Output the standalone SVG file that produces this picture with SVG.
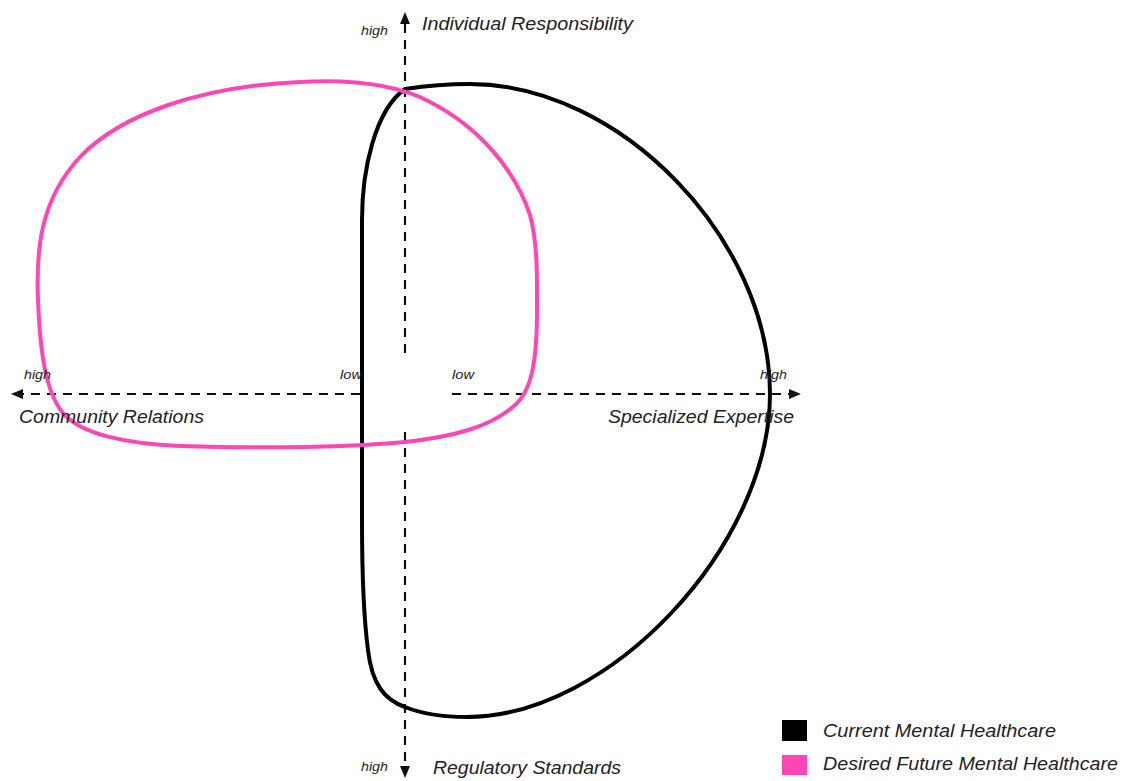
<svg xmlns="http://www.w3.org/2000/svg" width="1125" height="781" viewBox="0 0 1125 781">
<style>
.lbl{font-family:"Liberation Sans",Arial,sans-serif;font-style:italic;fill:#222;font-size:18.5px}
.sm{font-family:"Liberation Sans",Arial,sans-serif;font-style:italic;fill:#222;font-size:13px}
.axis{stroke:#111;stroke-width:2.2;stroke-dasharray:9 7;fill:none}
.head{fill:#111}
.shape{fill:none;stroke-width:4;stroke-linejoin:round}
</style>
<rect width="1125" height="781" fill="#fff"/>
<g id="connectors">
<line class="axis" x1="405" y1="24" x2="405" y2="358"/>
<line class="axis" x1="405" y1="432" x2="405" y2="766"/>
<line class="axis" x1="360" y1="394" x2="22" y2="394"/>
<line class="axis" x1="452" y1="394" x2="790" y2="394"/>
<polygon class="head" points="405,12 400,24 410,24"/>
<polygon class="head" points="405,778 400,766 410,766"/>
<polygon class="head" points="11,394 23,389 23,399"/>
<polygon class="head" points="801,394 789,389 789,399"/>
</g>
<g id="current">
<path class="shape" stroke="#000" d="M 405 89 C 425 86, 445 84, 470 84 C 620 84, 770 239, 770 394 C 770 546, 609 717, 467 717 C 440 717, 420 713, 405 707 C 385 700, 372 685, 368 650 C 364 620, 362 580, 362 520 L 362 220 C 362 170, 375 110, 405 89 Z"/>
</g>
<g id="desired">
<path class="shape" stroke="#ff46b4" d="M 300 82 C 360 79, 400 86, 430 102 C 480 128, 515 170, 530 215 C 538 245, 537 280, 537 310 C 537 360, 532 390, 515 405 C 490 428, 450 437, 405 442 C 340 448, 250 448, 180 446 C 130 444, 80 435, 62 412 C 45 390, 40 350, 38 300 C 36 250, 40 200, 80 157 C 120 115, 200 86, 300 82 Z"/>
</g>
<g id="axis-labels">
<text class="sm" x="361" y="35" textLength="27" lengthAdjust="spacingAndGlyphs">high</text>
<text class="lbl" x="422" y="30" textLength="211" lengthAdjust="spacingAndGlyphs">Individual Responsibility</text>
<text class="sm" x="24" y="379" textLength="27" lengthAdjust="spacingAndGlyphs">high</text>
<text class="sm" x="340" y="379" textLength="22" lengthAdjust="spacingAndGlyphs">low</text>
<text class="sm" x="452" y="379" textLength="22" lengthAdjust="spacingAndGlyphs">low</text>
<text class="sm" x="760" y="379" textLength="27" lengthAdjust="spacingAndGlyphs">high</text>
<text class="lbl" x="19" y="423" textLength="185" lengthAdjust="spacingAndGlyphs">Community Relations</text>
<text class="lbl" x="608" y="423" textLength="186" lengthAdjust="spacingAndGlyphs">Specialized Expertise</text>
<text class="sm" x="361" y="771" textLength="27" lengthAdjust="spacingAndGlyphs">high</text>
<text class="lbl" x="433" y="774" textLength="188" lengthAdjust="spacingAndGlyphs">Regulatory Standards</text>
</g>
<g id="legend">
<rect x="782" y="720" width="25" height="21" fill="#000"/>
<text class="lbl" x="823" y="737" textLength="233" lengthAdjust="spacingAndGlyphs">Current Mental Healthcare</text>
<rect x="782" y="755" width="25" height="20" fill="#ff46b4"/>
<text class="lbl" x="823" y="770" textLength="295" lengthAdjust="spacingAndGlyphs">Desired Future Mental Healthcare</text>
</g>
</svg>
